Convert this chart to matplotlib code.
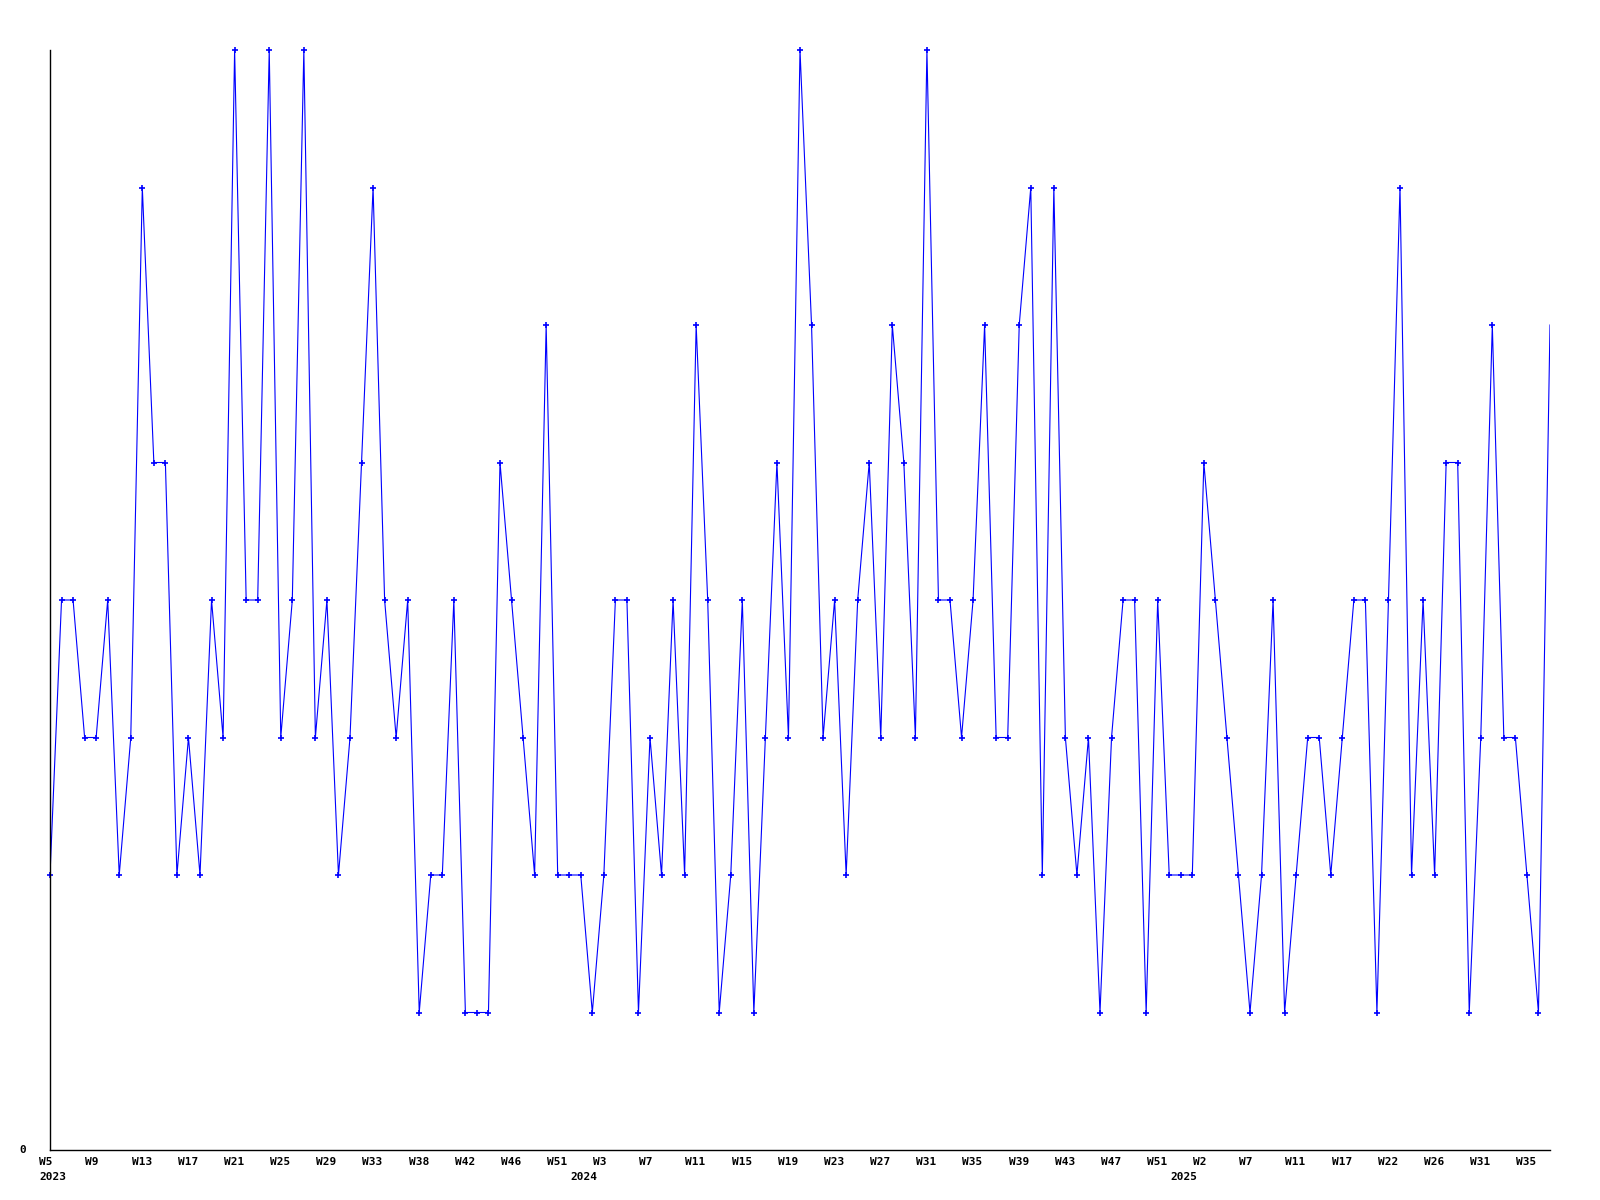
import numpy as np
import matplotlib
matplotlib.use('Agg')
import matplotlib.pyplot as plt

# weekly counts, one value per point
values = [2, 4, 4, 3, 3, 4, 2, 3, 7, 5, 5, 2, 3, 2, 4, 3, 8, 4, 4, 8,
          3, 4, 8, 3, 4, 2, 3, 5, 7, 4, 3, 4, 1, 2, 2, 4, 1, 1, 1, 5,
          4, 3, 2, 6, 2, 2, 2, 1, 2, 4, 4, 1, 3, 2, 4, 2, 6, 4, 1, 2,
          4, 1, 3, 5, 3, 8, 6, 3, 4, 2, 4, 5, 3, 6, 5, 3, 8, 4, 4, 3,
          4, 6, 3, 3, 6, 7, 2, 7, 3, 2, 3, 1, 3, 4, 4, 1, 4, 2, 2, 2,
          5, 4, 3, 2, 1, 2, 4, 1, 2, 3, 3, 2, 3, 4, 4, 1, 4, 7, 2, 4,
          2, 5, 5, 1, 3, 6, 3, 3, 2, 1, 6]

# label every 4th point
week_labels = ['W5', 'W9', 'W13', 'W17', 'W21', 'W25', 'W29', 'W33', 'W38',
               'W42', 'W46', 'W51', 'W3', 'W7', 'W11', 'W15', 'W19', 'W23',
               'W27', 'W31', 'W35', 'W39', 'W43', 'W47', 'W51', 'W2', 'W7',
               'W11', 'W17', 'W22', 'W26', 'W31', 'W35']
years = ['2023', '2024', '2025']
year_idx = [0, 46, 98]

x = np.arange(len(values))
y = np.array(values)

fig = plt.figure(figsize=(16, 12), dpi=100)
ax = fig.add_axes([50/1600, 50/1200, 1500/1600, 1100/1200])

ax.plot(x, y, color='#0000ff', lw=0.8)
ax.plot(x[:-1], y[:-1], ls='none', marker='+', ms=4, mew=1.2,
        color='#0000ff', clip_on=False)

ax.set_xlim(0, len(values) - 1)
ax.set_ylim(0, 8)
ax.set_xticks([])
ax.set_yticks([])
for s in ['top', 'right']:
    ax.spines[s].set_visible(False)
for s in ['left', 'bottom']:
    ax.spines[s].set_color('black')
    ax.spines[s].set_linewidth(1.0)

font = dict(family='DejaVu Sans Mono', weight='bold', size=8)
off = 10.7 / (1500 / (len(values) - 1))
tr = ax.get_xaxis_transform()
for i, lab in enumerate(week_labels):
    ax.text(i*4 - off, -12/1100, lab, transform=tr, ha='left', va='center',
            clip_on=False, **font)
for i, yr in zip(year_idx, years):
    ax.text(i - off, -27/1100, yr, transform=tr, ha='left', va='center',
            clip_on=False, **font)
ax.text(-24/1500, 0, '0', transform=ax.transAxes, ha='right', va='center', **font)

plt.savefig('out.png', dpi=100)
